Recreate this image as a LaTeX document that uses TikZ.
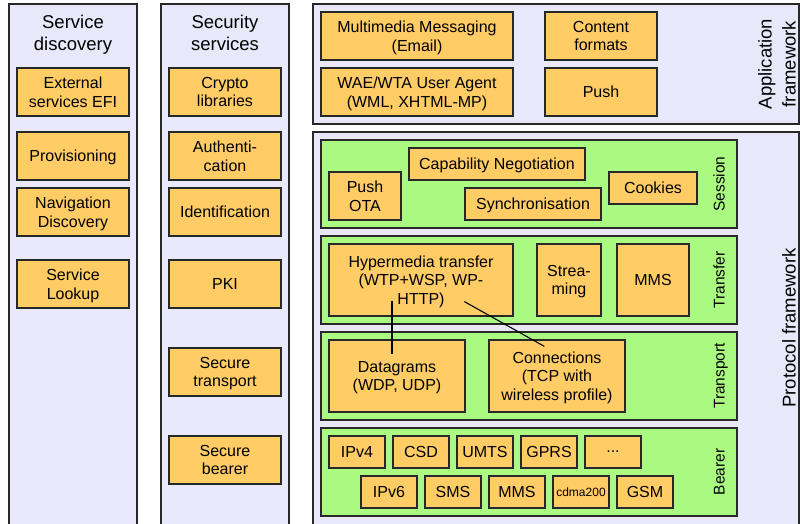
\documentclass[tikz,border=0pt]{standalone}
\usepackage{fontspec}
\setmainfont{Liberation Sans}
\definecolor{panelbg}{RGB}{232,232,250}
\definecolor{layerbg}{RGB}{170,250,130}
\definecolor{boxbg}{RGB}{255,204,102}
\definecolor{edge}{RGB}{40,40,40}
\tikzset{
  panel/.style={draw=edge, line width=1.3pt, fill=panelbg},
  layer/.style={draw=edge, line width=1.3pt, fill=layerbg, inner sep=0pt},
  box/.style={draw=edge, line width=1.2pt, fill=boxbg, align=center, inner sep=0pt,
    text depth=0pt, font=\fontsize{16}{18.5}\selectfont},
  title/.style={align=center, inner sep=0pt, anchor=north, font=\fontsize{18.5}{22}\selectfont},
  framelabel/.style={rotate=90, anchor=south, align=center, inner sep=0pt,
    font=\fontsize{18.5}{24}\selectfont},
  side/.style={rotate=90, anchor=base, inner sep=0pt, font=\fontsize{15.5}{18}\selectfont},
  link/.style={draw=black},
}
\begin{document}
\begin{tikzpicture}[x=1pt, y=-1pt]
\useasboundingbox (0,0) rectangle (800,523);
\clip (0,0) rectangle (800,523);

% outer panels
\draw[panel] (9,4) rectangle (137,540);
\draw[panel] (161,4) rectangle (289,540);
\draw[panel] (313,4) rectangle (799,124);
\draw[panel] (313,132) rectangle (799,540);

% column titles
\node[title] (sdtitle) at (73,15) {Service\\discovery};
\node[title] (sstitle) at (225,15) {Security\\services};

% service discovery
\node[box, minimum width=112pt, minimum height=48pt] (ext) at (73,92) {External\\services EFI};
\node[box, minimum width=112pt, minimum height=48pt] (prov) at (73,156) {Provisioning};
\node[box, minimum width=112pt, minimum height=48pt] (nav) at (73,212) {Navigation\\Discovery};
\node[box, minimum width=112pt, minimum height=48pt] (lookup) at (73,284) {Service\\Lookup};

% security services
\node[box, minimum width=112pt, minimum height=48pt] (crypto) at (225,92) {Crypto\\libraries};
\node[box, minimum width=112pt, minimum height=48pt] (auth) at (225,156) {Authenti-\\cation};
\node[box, minimum width=112pt, minimum height=48pt] (ident) at (225,212) {Identification};
\node[box, minimum width=112pt, minimum height=48pt] (pki) at (225,284) {PKI};
\node[box, minimum width=112pt, minimum height=48pt] (sectr) at (225,372) {Secure\\transport};
\node[box, minimum width=112pt, minimum height=48pt] (secbr) at (225,460) {Secure\\bearer};

% application framework
\node[box, minimum width=192pt, minimum height=48pt] (mm) at (417,36) {Multimedia Messaging\\(Email)};
\node[box, minimum width=192pt, minimum height=48pt] (wae) at (417,92) {WAE/WTA User Agent\\(WML, XHTML-MP)};
\node[box, minimum width=112pt, minimum height=48pt] (content) at (601,36) {Content\\formats};
\node[box, minimum width=112pt, minimum height=48pt] (push) at (601,92) {Push};
\node[framelabel] (applabel) at (796,64) {Application\\framework};

% protocol framework layers
\node[layer, minimum width=416pt, minimum height=88pt] (session) at (529,184) {};
\node[layer, minimum width=416pt, minimum height=88pt] (transfer) at (529,280) {};
\node[layer, minimum width=416pt, minimum height=88pt] (transport) at (529,376) {};
\node[layer, minimum width=416pt, minimum height=88pt] (bearer) at (529,472) {};
\node[side] (sessionlabel) at (724.5,184) {Session};
\node[side] (transferlabel) at (724.5,280) {Transfer};
\node[side] (transportlabel) at (724.5,376) {Transport};
\node[side] (bearerlabel) at (724.5,472) {Bearer};
\node[framelabel] (protlabel) at (796,328) {Protocol framework};

% session
\node[box, minimum width=72pt, minimum height=48pt] (pushota) at (365,196) {Push\\OTA};
\node[box, minimum width=176pt, minimum height=32pt] (capneg) at (497,164) {Capability Negotiation};
\node[box, minimum width=136pt, minimum height=32pt] (sync) at (533,204) {Synchronisation};
\node[box, minimum width=88pt, minimum height=32pt] (cookies) at (653,188) {Cookies};

% transfer
\node[box, minimum width=184pt, minimum height=72pt] (hyper) at (421,280) {Hypermedia transfer\\(WTP+WSP, WP-\\HTTP)};
\node[box, minimum width=64pt, minimum height=72pt] (stream) at (569,280) {Strea-\\ming};
\node[box, minimum width=72pt, minimum height=72pt] (mms) at (653,280) {MMS};

% transport
\node[box, minimum width=136pt, minimum height=72pt] (dgram) at (397,376) {Datagrams\\(WDP, UDP)};
\node[box, minimum width=136pt, minimum height=72pt] (conn) at (557,376) {Connections\\(TCP with\\wireless profile)};

% bearer
\foreach \n/\x/\t in {ipv4/357/IPv4, csd/421/CSD, umts/485/UMTS, gprs/549/GPRS}
  \node[box, minimum width=56pt, minimum height=32pt] (\n) at (\x,452) {\t};
\node[box, minimum width=56pt, minimum height=32pt] (more) at (613,452) {...};
\foreach \n/\x/\t in {ipv6/389/IPv6, sms/453/SMS, mmsb/517/MMS, gsm/645/GSM}
  \node[box, minimum width=56pt, minimum height=32pt] (\n) at (\x,492) {\t};
\node[box, minimum width=56pt, minimum height=32pt, font=\fontsize{12}{14}\selectfont] (cdma) at (581,492) {cdma200};

% links between transfer and transport
\draw[link, line width=2pt] ([xshift=64pt, yshift=16pt]hyper.south west) -- ([xshift=64pt, yshift=-15pt]dgram.north west);
\draw[link, line width=1.1pt] ([xshift=136pt, yshift=15pt]hyper.south west) -- ([xshift=56pt, yshift=-7pt]conn.north west);
\end{tikzpicture}
\end{document}
